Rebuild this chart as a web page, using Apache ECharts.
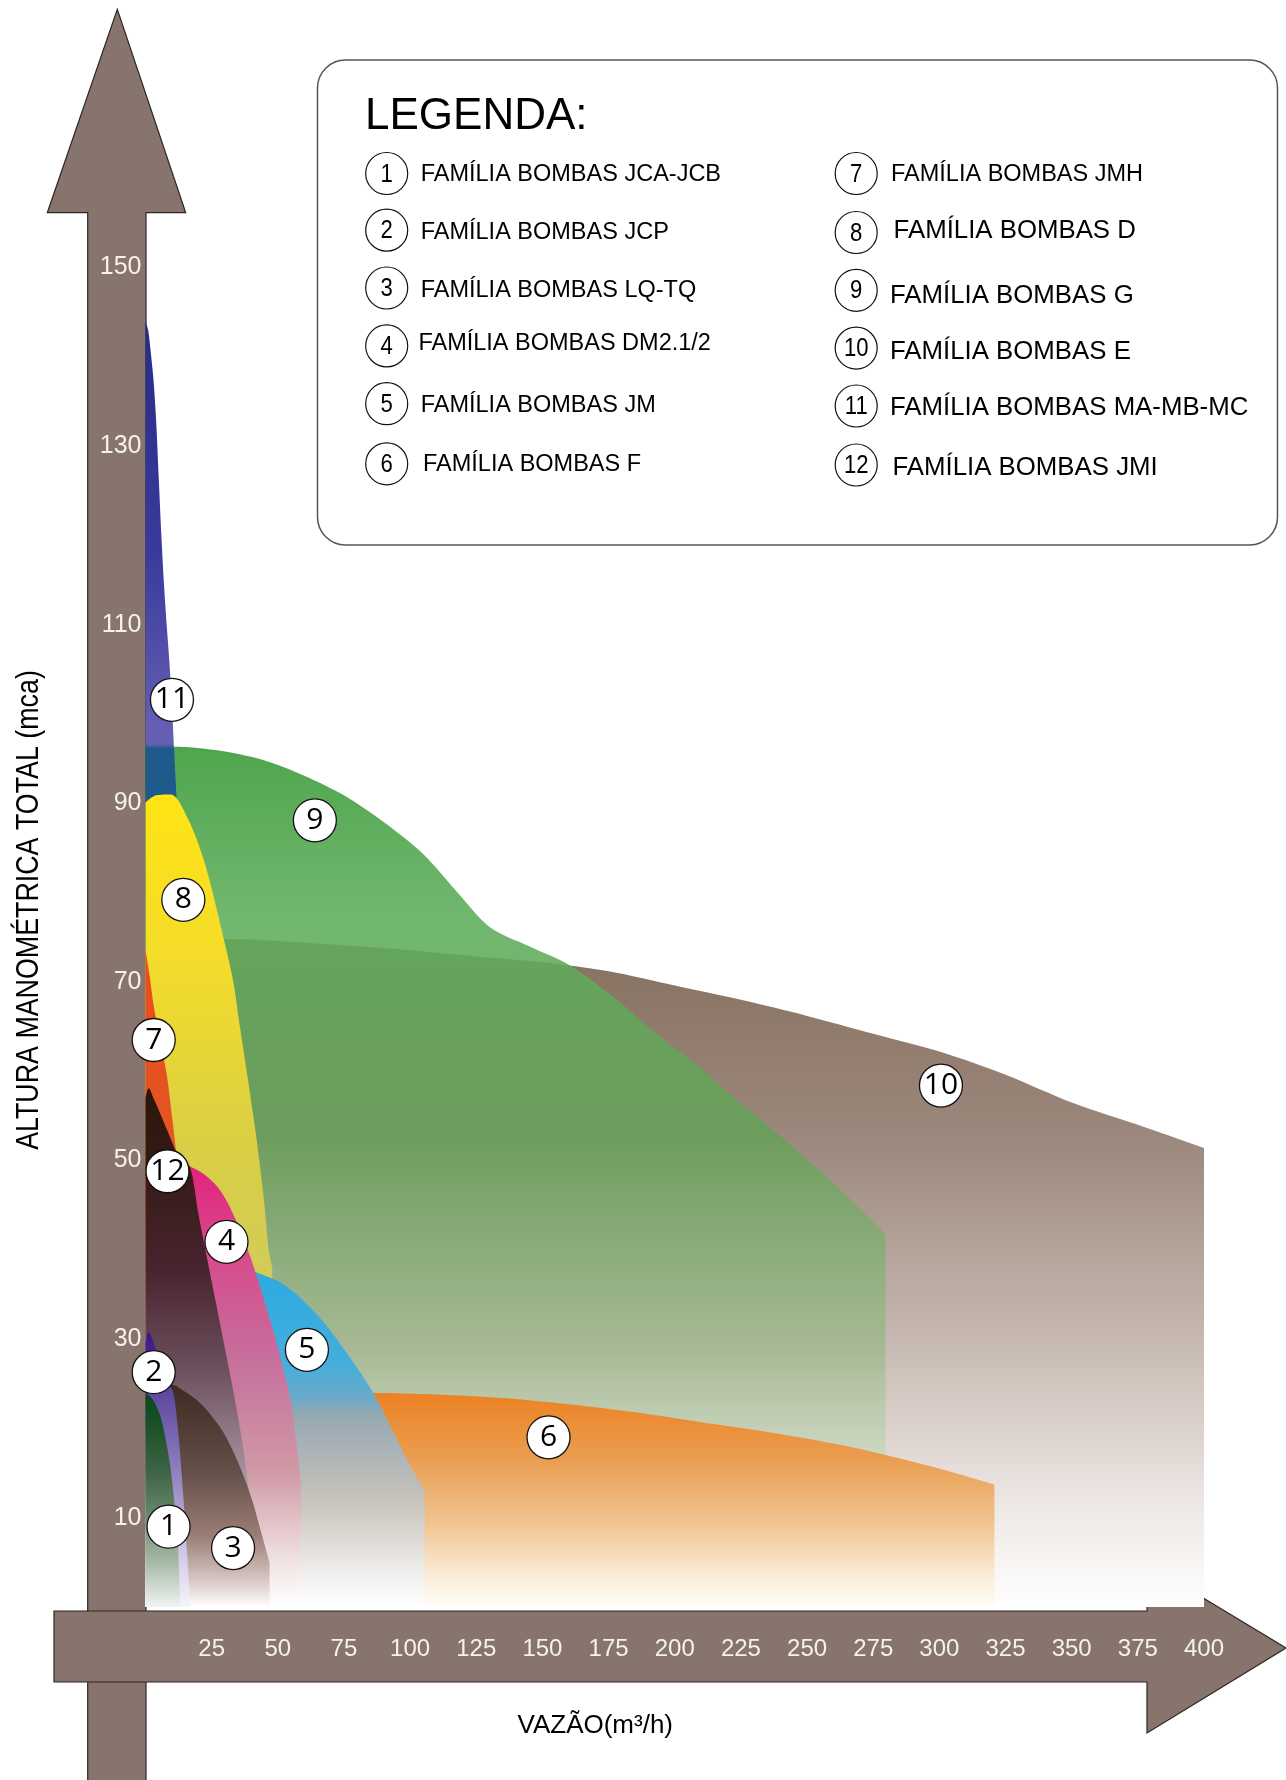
<!DOCTYPE html>
<html>
<head>
<meta charset="utf-8">
<script src="https://cdn.jsdelivr.net/npm/echarts@6/dist/echarts.min.js"></script>
<style>
html,body{margin:0;padding:0;background:#fff;}
#chart{width:1286px;height:1780px;}
</style>
</head>
<body>
<div id="chart"></div>
<script>
// ---------------- DATA ----------------
const xTicks = [25, 50, 75, 100, 125, 150, 175, 200, 225, 250, 275, 300, 325, 350, 375, 400];
const yTicks = [10, 30, 50, 70, 90, 110, 130, 150];

const xAxisTitle = 'VAZÃO(m³/h)';
const yAxisTitle = 'ALTURA MANOMÉTRICA TOTAL (mca)';
const legendTitle = 'LEGENDA:';

const familyNumbers = ['1','2','3','4','5','6','7','8','9','10','11','12'];
const familyNames = [
  'FAMÍLIA BOMBAS JCA-JCB', 'FAMÍLIA BOMBAS JCP', 'FAMÍLIA BOMBAS LQ-TQ',
  'FAMÍLIA BOMBAS DM2.1/2', 'FAMÍLIA BOMBAS JM', 'FAMÍLIA BOMBAS F',
  'FAMÍLIA BOMBAS JMH', 'FAMÍLIA BOMBAS D', 'FAMÍLIA BOMBAS G',
  'FAMÍLIA BOMBAS E', 'FAMÍLIA BOMBAS MA-MB-MC', 'FAMÍLIA BOMBAS JMI'
];

// curves: [vazão m³/h, altura mca]
const curveJCA = [[0,24],[2.8,23.2],[5.7,21.3],[7.6,18.8],[9.4,15.7],[10.8,12],[12,8.3],[12.7,4],[13.2,0]];
const curveJCP = [[0,29.6],[1.2,30.8],[2.6,30],[4.4,28.4],[6.2,26.8],[8.4,25.2],[10.5,24],[12.4,19.5],[14.4,12],[15.6,6.5],[17,0]];
const curveLQ  = [[0,23.5],[5,24.6],[10,24.9],[15,24.1],[20.8,22.8],[25,21.4],[29.6,19.5],[33.5,17.2],[37.2,14.6],[40.5,11.8],[43.5,8.6],[46.9,5]];
const curveDM  = [[0,50],[8,50],[13,49.8],[17,49.3],[22,48.5],[27.1,47.1],[31,45.3],[34.6,43],[38,40.5],[40.9,38.1],[44.7,34.5],[48.5,30.7],[51.8,27],[54.8,23.2],[57,18.5],[58.8,13.9]];
const curveJM  = [[0,39],[15,39],[30,38.6],[41.6,37.5],[52.4,36.1],[65.3,32.6],[78.1,27.6],[86,24],[91,21.2],[99.6,16.1],[105.5,13]];
const curveF   = [[0,24.2],[40,24.2],[85.7,24],[110,23.8],[135,23.4],[160,22.7],[185,21.8],[210,20.7],[235,19.6],[260,18.3],[280,17],[300,15.5],[320.8,13.7]];
const curveJMH = [[0,73.7],[1.5,70.8],[3.1,67.3],[4.4,65.3],[5.7,63.4],[7,61.3],[8.2,59.3],[10,55],[12,50]];
const curveD   = [[0,90.1],[4,90.9],[9.6,91],[16,88.3],[22.4,83.3],[28.8,75.8],[33.2,70],[35.3,65.7],[38.5,59.5],[41.7,53],[43,50],[45,45],[46.4,40.3],[47.9,38]];
const curveG   = [[0,96.4],[15,96.3],[30,95.8],[45,94.8],[60,93.1],[75,90.9],[90,87.9],[105,84.3],[118,80],[130.3,76.1],[145,74],[160.2,71.9],[176,68.5],[193,64.2],[208,60.8],[223,56.9],[238,53.2],[252.8,49.4],[266,45.8],[279.7,41.8]];
const curveE   = [[0,74.8],[30,74.8],[60,74.4],[90,73.8],[120,73],[150,72.2],[175,71.2],[200,69.6],[225,68],[250,66.2],[275,64.2],[300,62.2],[325,59.6],[350,56.5],[375,54],[400,51.4]];
const curveMA  = [[0,144],[1,143],[2,140.5],[3,137.5],[4,133],[5,126.5],[6,120],[7,114.5],[8,110],[9,106],[10,101],[10.8,96],[11.8,90.4],[13.5,82],[15.5,74]];
const curveJMI = [[0,57],[0.6,57.8],[1.2,58.1],[3,57],[5.5,55.3],[8.2,53.4],[13,50.2],[16.8,49.3],[20,44],[23.3,39],[27,33.5],[30,29],[33,24.5],[36,19.5],[38.5,14.5],[40.2,9],[41.2,4],[41.6,0]];

// number marker positions on the chart: [vazão, altura, number]
const markerPoints = [
  [8.7, 9, '1'], [3.1, 26.3, '2'], [33.1, 6.6, '3'], [30.6, 40.9, '4'],
  [61, 28.8, '5'], [152.3, 19, '6'], [3.1, 63.5, '7'], [14.3, 79.2, '8'],
  [64, 88.1, '9'], [300.6, 58.4, '10'], [10, 101.6, '11'], [8.3, 48.8, '12']
];

// ---------------- STYLES / LAYOUT ----------------
const FONT = "'Liberation Sans', Arial, Helvetica, sans-serif";
const ARROW = '#87756D';

// legend layout (pixels): circle centre y, text y, text x, font size per entry
const legCircleY = [173.5, 230.2, 288, 345.9, 403.7, 463.8, 173.5, 232.5, 290.3, 348.1, 406, 465];
const legTextY   = [174.5, 232.3, 290.2, 343.5, 405.8, 464.8, 174.5, 231.2, 295.8, 351.4, 408.1, 468.2];
const legTextX   = [420.7, 420.7, 420.7, 418.4, 420.7, 423, 891, 893.6, 890, 890, 890, 892.5];
const legFont    = [23.5, 23.5, 23.5, 23.5, 23.5, 23.5, 23.5, 25.8, 25.8, 25.8, 25.8, 25.8];

function grad(stops) {
  return new echarts.graphic.LinearGradient(0, 0, 0, 1,
    stops.map(s => ({ offset: s[0], color: s[1] })));
}

// drawing order bottom -> top
const layers = [
  { name: familyNames[9],  data: curveE,   opacity: 1,    stops: [[0,'#86705F'],[0.3,'#9C887C'],[0.6,'#C7B9B1'],[0.85,'#EEE8E5'],[1,'#FFFFFF']] },
  { name: familyNames[8],  data: curveG,   opacity: 0.88, stops: [[0,'#379935'],[0.2,'#5EAE5B'],[0.45,'#66A058'],[0.7,'#A2B991'],[0.86,'#D6E0CE'],[1,'#FFFFFF']] },
  { name: familyNames[5],  data: curveF,   opacity: 1,    stops: [[0,'#EC8122'],[0.3,'#EA9C4E'],[0.6,'#F0C28C'],[0.85,'#FAEBD6'],[1,'#FFFDF6']] },
  { name: familyNames[10], data: curveMA,  opacity: 1,    stops: [[0,'#282B86'],[0.18,'#3A3A9C'],[0.32,'#6660B4'],[0.329,'#6660B4'],[0.332,'#1F5A8C'],[0.5,'#1F5A8C'],[1,'#A8B8C8']] },
  { name: familyNames[7],  data: curveD,   opacity: 1,    stops: [[0,'#FFE414'],[0.2,'#F4DC2A'],[0.45,'#D8CE46'],[0.6,'#D2CC5A'],[1,'#F4F2D8']] },
  { name: familyNames[4],  data: curveJM,  opacity: 1,    stops: [[0,'#2BA9E1'],[0.3,'#44AEDC'],[0.4,'#6AAAC8'],[0.45,'#96A8B2'],[0.7,'#C8C4BC'],[0.9,'#F0EEEC'],[1,'#FFFFFF']] },
  { name: familyNames[3],  data: curveDM,  opacity: 1,    stops: [[0,'#E2227A'],[0.2,'#D8488C'],[0.45,'#C6709C'],[0.7,'#D09AA6'],[0.9,'#F0E4E4'],[1,'#FFFFFF']] },
  { name: familyNames[6],  data: curveJMH, opacity: 1,    stops: [[0,'#EA4B1C'],[0.4,'#E05A26'],[1,'#F0D8C8']] },
  { name: familyNames[11], data: curveJMI, opacity: 1,    stops: [[0,'#2B1508'],[0.15,'#351A16'],[0.35,'#48242E'],[0.55,'#6E5260'],[0.8,'#B8A8B0'],[1,'#F8F6F8']] },
  { name: familyNames[2],  data: curveLQ,  opacity: 1,    stops: [[0,'#3E2A22'],[0.4,'#66504A'],[0.68,'#9A7E76'],[0.88,'#D8C8C4'],[1,'#FFFFFF']] },
  { name: familyNames[1],  data: curveJCP, opacity: 1,    stops: [[0,'#3A1488'],[0.22,'#5C48A0'],[0.5,'#8E7EBE'],[0.84,'#D8D0EC'],[1,'#F6F4FC']] },
  { name: familyNames[0],  data: curveJCA, opacity: 1,    stops: [[0,'#08481A'],[0.17,'#1E5228'],[0.37,'#3E6446'],[0.58,'#6A8A6E'],[0.8,'#AABCAA'],[1,'#F0F4F0']] }
];

const GRID = { left: 145.5, right: 82, top: 267.6, bottom: 173 };

const areaSeries = layers.map((l, i) => ({
  type: 'line',
  name: l.name,
  data: l.data,
  smooth: 0.3,
  showSymbol: false,
  silent: true,
  z: 2 + i,
  lineStyle: { width: 0, opacity: 0 },
  areaStyle: { color: grad(l.stops), opacity: l.opacity, origin: 'start' }
}));

const markerSeries = {
  type: 'scatter',
  name: 'markers',
  data: markerPoints,
  symbol: 'circle',
  symbolSize: 43,
  z: 40,
  itemStyle: { color: '#FFFFFF', borderColor: '#111', borderWidth: 1.3, opacity: 1 },
  label: {
    show: true, position: 'inside',
    formatter: p => p.value[2],
    color: '#000', fontSize: 30, fontFamily: "'Open Sans', 'Noto Sans', sans-serif"
  }
};

// legend (graphic)
const legendEls = [];
legendEls.push({
  type: 'rect', z: 1,
  shape: { x: 317.5, y: 60, width: 960, height: 485, r: 28 },
  style: { fill: '#FFFFFF', stroke: '#555', lineWidth: 1.5 }
});
legendEls.push({
  type: 'text', z: 2, x: 365, y: 117,
  style: { text: legendTitle, font: "44px " + FONT, fill: '#000', textVerticalAlign: 'middle' }
});
familyNames.forEach((name, i) => {
  const cx = i < 6 ? 386.7 : 856.2;
  legendEls.push({
    type: 'circle', z: 2,
    shape: { cx: cx, cy: legCircleY[i], r: 21 },
    style: { fill: '#FFFFFF', stroke: '#111', lineWidth: 1.2 }
  });
  legendEls.push({
    type: 'text', z: 3, x: cx, y: legCircleY[i] + 1, scaleX: 0.85,
    style: { text: familyNumbers[i], font: "26px " + FONT, fill: '#000', textAlign: 'center', textVerticalAlign: 'middle' }
  });
  legendEls.push({
    type: 'text', z: 3, x: legTextX[i], y: legTextY[i],
    style: { text: name, font: legFont[i] + "px " + FONT, fill: '#000', textVerticalAlign: 'middle' }
  });
});

// axis arrows (decoration) and titles
const arrowEls = [
  { type: 'polygon', z: 0,
    shape: { points: [[87.7,1790],[87.7,212.7],[47.3,212.7],[117.3,9.3],[185.7,212.7],[146,212.7],[146,1790]] },
    style: { fill: ARROW, stroke: '#2E2624', lineWidth: 1.2 } },
  { type: 'polygon', z: 0,
    shape: { points: [[54,1611],[1147,1611],[1147,1564],[1286,1648],[1147,1733],[1147,1682],[54,1682]] },
    style: { fill: ARROW, stroke: '#2E2624', lineWidth: 1.2 } },
  { type: 'text', z: 2, x: 29, y: 910, rotation: Math.PI / 2, scaleX: 0.865,
    style: { text: yAxisTitle, font: "31px " + FONT, fill: '#000', textAlign: 'center', textVerticalAlign: 'middle' } }
];

const chart = echarts.init(document.getElementById('chart'), null, { renderer: 'canvas' });
chart.setOption({
  animation: false,
  backgroundColor: '#FFFFFF',
  grid: GRID,
  xAxis: {
    type: 'value', min: 0, max: 400, interval: 25, z: 20,
    axisLine: { show: false }, axisTick: { show: false }, splitLine: { show: false },
    axisLabel: {
      color: '#F4F1EF', fontSize: 24, fontFamily: FONT, margin: 30,
      formatter: v => (xTicks.indexOf(v) >= 0 ? String(v) : '')
    },
    name: xAxisTitle, nameLocation: 'middle', nameGap: 106,
    nameTextStyle: { color: '#000', fontSize: 26, fontFamily: FONT, padding: [0, 159, 0, 0] }
  },
  yAxis: {
    type: 'value', min: 0, max: 150, interval: 10, z: 20,
    axisLine: { show: false }, axisTick: { show: false }, splitLine: { show: false },
    axisLabel: {
      color: '#F4F1EF', fontSize: 25, fontFamily: FONT, margin: 4,
      formatter: v => (yTicks.indexOf(v) >= 0 ? String(v) : '')
    }
  },
  graphic: { elements: arrowEls.concat(legendEls) },
  series: areaSeries.concat([markerSeries])
});
</script>
</body>
</html>
